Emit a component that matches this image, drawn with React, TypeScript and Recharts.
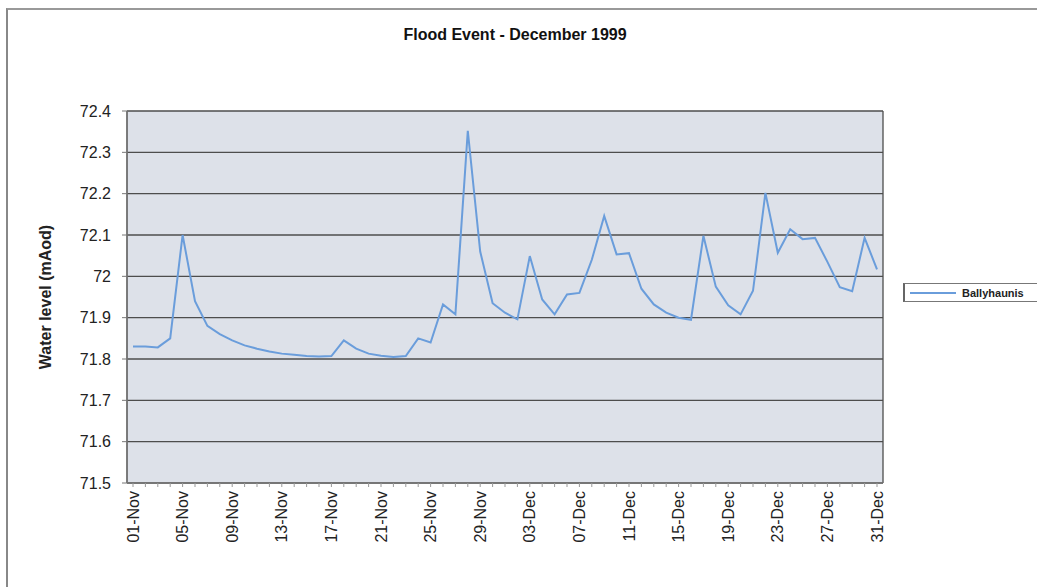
import React from "react";
import {
  LineChart,
  Line,
  XAxis,
  YAxis,
  CartesianGrid,
  Legend,
} from "recharts";

// daily readings, 01-Nov to 31-Dec 1999
const days = [
  "01-Nov", "02-Nov", "03-Nov", "04-Nov", "05-Nov", "06-Nov", "07-Nov", "08-Nov",
  "09-Nov", "10-Nov", "11-Nov", "12-Nov", "13-Nov", "14-Nov", "15-Nov", "16-Nov",
  "17-Nov", "18-Nov", "19-Nov", "20-Nov", "21-Nov", "22-Nov", "23-Nov", "24-Nov",
  "25-Nov", "26-Nov", "27-Nov", "28-Nov", "29-Nov", "30-Nov",
  "01-Dec", "02-Dec", "03-Dec", "04-Dec", "05-Dec", "06-Dec", "07-Dec", "08-Dec",
  "09-Dec", "10-Dec", "11-Dec", "12-Dec", "13-Dec", "14-Dec", "15-Dec", "16-Dec",
  "17-Dec", "18-Dec", "19-Dec", "20-Dec", "21-Dec", "22-Dec", "23-Dec", "24-Dec",
  "25-Dec", "26-Dec", "27-Dec", "28-Dec", "29-Dec", "30-Dec", "31-Dec",
];

const ballyhaunis = [
  71.83, 71.83, 71.828, 71.85, 72.1, 71.94, 71.88, 71.86,
  71.845, 71.833, 71.825, 71.818, 71.813, 71.81, 71.807, 71.806,
  71.807, 71.845, 71.825, 71.813, 71.808, 71.805, 71.807, 71.85,
  71.84, 71.932, 71.908, 72.352, 72.06, 71.935,
  71.912, 71.896, 72.049, 71.944, 71.908, 71.956, 71.96, 72.04,
  72.146, 72.053, 72.056, 71.97, 71.932, 71.912, 71.9, 71.895,
  72.098, 71.975, 71.93, 71.908, 71.965, 72.202, 72.057, 72.114,
  72.09, 72.093, 72.035, 71.974, 71.964, 72.093, 72.017,
];

const levelTicks = [71.5, 71.6, 71.7, 71.8, 71.9, 72, 72.1, 72.2, 72.3, 72.4];

const data = days.map((day, i) => ({ day, level: ballyhaunis[i] }));

const FONT = "'Liberation Sans', Arial, sans-serif";
const LINE_COLOR = "#6a9ddb";

// small tick for every day, label on every fourth
const DayTick = (props: any) => {
  const { x, y, payload } = props;
  const idx = payload.index;
  return (
    <g>
      <line x1={x} y1={y} x2={x} y2={y + 4} stroke="#999" strokeWidth={1} />
      {idx % 4 === 0 && (
        <text
          x={x}
          y={y + 8}
          transform={`rotate(-90, ${x}, ${y + 8})`}
          textAnchor="end"
          dominantBaseline="central"
          fontFamily={FONT}
          fontSize={16}
          fill="#222"
        >
          {payload.value}
        </text>
      )}
    </g>
  );
};

// legend box runs off the right edge of the chart frame
const LegendBox = () => (
  <div
    style={{
      display: "flex",
      alignItems: "center",
      width: 180,
      height: 19,
      border: "1px solid #777",
      borderLeft: "2px solid #666",
      background: "#fff",
      boxSizing: "border-box",
    }}
  >
    <svg width={52} height={10} style={{ marginLeft: 5, flexShrink: 0 }}>
      <line x1={0} y1={5} x2={46} y2={5} stroke={LINE_COLOR} strokeWidth={2} />
    </svg>
    <span style={{ fontFamily: FONT, fontSize: 11, fontWeight: 600, color: "#222" }}>
      Ballyhaunis
    </span>
  </div>
);

export default function App() {
  return (
    <div
      style={{
        position: "absolute",
        left: 0,
        top: 0,
        width: 1037,
        height: 587,
        overflow: "hidden",
        background: "#fff",
      }}
    >
      <div
        style={{
          position: "absolute",
          left: 6,
          top: 8,
          width: 1100,
          height: 700,
          borderLeft: "2px solid #888",
          borderTop: "2px solid #999",
        }}
      />
      <div
        style={{
          position: "absolute",
          left: 0,
          width: 1030,
          top: 26,
          textAlign: "center",
          fontFamily: FONT,
          fontWeight: "bold",
          fontSize: 16,
          color: "#111",
        }}
      >
        Flood Event - December 1999
      </div>
      <LineChart
        width={1037}
        height={587}
        data={data}
        margin={{ top: 111, right: 154, bottom: 14, left: 0 }}
        style={{ overflow: "hidden" }}
      >
        <CartesianGrid
          fill="#dde1e9"
          fillOpacity={1}
          stroke="#4d4d4d"
          strokeWidth={1.3}
          vertical={true}
          verticalCoordinatesGenerator={({ offset }: any) => [
            offset.left,
            offset.left + offset.width,
          ]}
        />
        <XAxis
          dataKey="day"
          interval={0}
          padding={{ left: 6, right: 6 }}
          tickSize={0}
          tickMargin={0}
          tickLine={false}
          tick={<DayTick />}
          axisLine={{ stroke: "#777", strokeWidth: 1.5 }}
          height={90}
        />
        <YAxis
          domain={[71.5, 72.4]}
          ticks={levelTicks}
          interval={0}
          width={127}
          tickSize={5}
          tickMargin={11}
          tickFormatter={(v: number) => String(Number(v.toFixed(1)))}
          tick={{ fontFamily: FONT, fontSize: 16, fill: "#222" }}
          tickLine={{ stroke: "#777" }}
          axisLine={{ stroke: "#777", strokeWidth: 1.5 }}
          label={{
            content: ({ viewBox }: any) => {
              const cx = 45;
              const cy = viewBox.y + viewBox.height / 2;
              return (
                <text
                  x={cx}
                  y={cy}
                  transform={`rotate(-90, ${cx}, ${cy})`}
                  textAnchor="middle"
                  dominantBaseline="central"
                  fontFamily={FONT}
                  fontWeight="bold"
                  fontSize={16}
                  fill="#222"
                >
                  Water level (mAod)
                </text>
              );
            },
          }}
        />
        <Legend
          layout="horizontal"
          align="center"
          verticalAlign="middle"
          content={<LegendBox />}
          wrapperStyle={{ left: 903, top: 283, width: 180, height: 19, margin: 0 }}
        />
        <Line
          type="linear"
          dataKey="level"
          name="Ballyhaunis"
          stroke={LINE_COLOR}
          strokeWidth={2}
          dot={false}
          isAnimationActive={false}
        />
      </LineChart>
    </div>
  );
}
